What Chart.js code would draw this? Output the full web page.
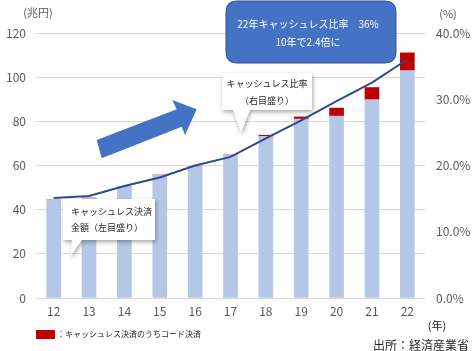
<!DOCTYPE html>
<html>
<head>
<meta charset="utf-8">
<script src="https://cdn.jsdelivr.net/npm/chart.js@4/dist/chart.umd.min.js"></script>
<style>
  html, body { margin: 0; padding: 0; background: #fff; }
</style>
</head>
<body>
<canvas id="chart" width="474" height="351"></canvas>
<script>
// 年（西暦下2桁）
var years = ['12', '13', '14', '15', '16', '17', '18', '19', '20', '21', '22'];
// キャッシュレス決済金額（コード決済を除く、兆円）
var cashlessBase = [44.4, 45.3, 50.3, 55.7, 59.5, 64.8, 73.2, 81.0, 82.4, 89.8, 103.0];
// うちコード決済（兆円）
var codePayment = [0, 0, 0, 0, 0, 0, 0.5, 1.0, 3.6, 5.5, 8.0];
// キャッシュレス比率（%）
var cashlessRatio = [15.1, 15.4, 16.9, 18.2, 20.0, 21.3, 24.1, 26.8, 29.7, 32.5, 36.0];

var FONT = '"Noto Sans CJK JP", "Noto Sans", sans-serif';
var GRAY = '#595959';

function roundRect(ctx, x, y, w, h, r){
    ctx.beginPath();
    ctx.moveTo(x + r, y);
    ctx.lineTo(x + w - r, y);
    ctx.quadraticCurveTo(x + w, y, x + w, y + r);
    ctx.lineTo(x + w, y + h - r);
    ctx.quadraticCurveTo(x + w, y + h, x + w - r, y + h);
    ctx.lineTo(x + r, y + h);
    ctx.quadraticCurveTo(x, y + h, x, y + h - r);
    ctx.lineTo(x, y + r);
    ctx.quadraticCurveTo(x, y, x + r, y);
    ctx.closePath();
}

// 白い吹き出し（pts: 吹き出し全体の輪郭）
function callout(ctx, pts, lines, tx, y0, lh, align){
    ctx.save();
    ctx.shadowColor = 'rgba(0,0,0,0.35)';
    ctx.shadowBlur = 4;
    ctx.shadowOffsetX = 1;
    ctx.shadowOffsetY = 2;
    ctx.beginPath();
    ctx.moveTo(pts[0][0], pts[0][1]);
    for (var i = 1; i < pts.length; i++) ctx.lineTo(pts[i][0], pts[i][1]);
    ctx.closePath();
    ctx.fillStyle = '#fff';
    ctx.fill();
    ctx.restore();
    ctx.fillStyle = '#262626';
    ctx.font = '9px ' + FONT;
    ctx.textAlign = align;
    ctx.textBaseline = 'middle';
    lines.forEach(function(t, k){ ctx.fillText(t, tx, y0 + k * lh); });
}

var annotations = {
    id: 'annotations',
    afterDatasetsDraw: function(chart){
        var ctx = chart.ctx;
        ctx.save();

        // 青い矢印
        ctx.beginPath();
        ctx.moveTo(96.7, 140);
        ctx.lineTo(176.7, 109.3);
        ctx.lineTo(172.3, 100);
        ctx.lineTo(196.7, 109.3);
        ctx.lineTo(185, 135);
        ctx.lineTo(181.7, 126.7);
        ctx.lineTo(101.7, 158.3);
        ctx.closePath();
        ctx.fillStyle = '#4472C4';
        ctx.fill();

        // 吹き出し：比率
        callout(ctx, [[222, 73], [312, 73], [312, 110], [250, 110], [241, 133], [233, 110], [222, 110]],
            ['キャッシュレス比率', '（右目盛り）'], 267, 84, 17, 'center');
        // 吹き出し：金額
        callout(ctx, [[63, 199], [155, 199], [155, 240], [82, 240], [70, 257], [72, 240], [63, 240]],
            ['キャッシュレス決済', '金額（左目盛り）'], 71, 212, 16, 'left');

        // 青い吹き出し
        roundRect(ctx, 226, 1, 170, 62, 11);
        ctx.fillStyle = '#4472C4';
        ctx.fill();
        ctx.strokeStyle = '#2F528F';
        ctx.lineWidth = 1;
        ctx.stroke();
        ctx.fillStyle = '#fff';
        ctx.font = '10px ' + FONT;
        ctx.textAlign = 'center';
        ctx.textBaseline = 'middle';
        ctx.fillText('22年キャッシュレス比率　36%', 308, 24);
        ctx.fillText('10年で2.4倍に', 308, 42);

        // 単位
        ctx.fillStyle = GRAY;
        ctx.font = '11px ' + FONT;
        ctx.fillText('(兆円)', 38, 13);
        ctx.fillText('(%)', 448, 14);
        ctx.fillStyle = '#262626';
        ctx.fillText('(年)', 437, 326);

        // 凡例
        ctx.fillStyle = '#C00000';
        ctx.fillRect(36, 330, 19, 9);
        ctx.fillStyle = '#262626';
        ctx.font = '8px ' + FONT;
        ctx.textAlign = 'left';
        ctx.fillText('：キャッシュレス決済のうちコード決済', 57, 334);

        // 出所
        ctx.font = '12px ' + FONT;
        ctx.textAlign = 'right';
        ctx.fillText('出所：経済産業省', 469, 345);

        ctx.restore();
    }
};

window.onload = function(){
    var ctx = document.getElementById('chart');
    new Chart(ctx, {
        data: {
            labels: years,
            datasets: [
                {
                    type: 'line',
                    label: 'キャッシュレス比率',
                    data: cashlessRatio,
                    yAxisID: 'y1',
                    borderColor: '#2E4A8E',
                    borderWidth: 2,
                    pointRadius: 0,
                    tension: 0,
                    order: 0
                },
                {
                    type: 'bar',
                    label: 'キャッシュレス決済金額',
                    data: cashlessBase,
                    yAxisID: 'y',
                    backgroundColor: '#B4C7E7',
                    barThickness: 14,
                    stack: 'amount',
                    order: 1
                },
                {
                    type: 'bar',
                    label: 'うちコード決済',
                    data: codePayment,
                    yAxisID: 'y',
                    backgroundColor: '#C00000',
                    barThickness: 14,
                    stack: 'amount',
                    order: 1
                }
            ]
        },
        options: {
            responsive: false,
            animation: false,
            layout: { padding: { top: 33, left: 0, right: 0, bottom: 0 } },
            plugins: {
                legend: { display: false },
                tooltip: { enabled: false }
            },
            scales: {
                x: {
                    stacked: true,
                    grid: { display: false, drawTicks: false },
                    border: { display: false },
                    ticks: { color: GRAY, font: { family: FONT, size: 12 }, padding: 6 },
                    afterFit: function(s){ s.height = 53; }
                },
                y: {
                    stacked: true,
                    position: 'left',
                    min: 0,
                    max: 120,
                    ticks: { stepSize: 20, color: GRAY, font: { family: FONT, size: 12 }, padding: 10 },
                    grid: { color: '#D9D9D9', drawTicks: false },
                    border: { display: false },
                    afterFit: function(s){ s.width = 36; }
                },
                y1: {
                    position: 'right',
                    min: 0,
                    max: 40,
                    ticks: {
                        stepSize: 10,
                        color: GRAY,
                        font: { family: FONT, size: 12 },
                        padding: 11,
                        callback: function(v){ return v.toFixed(1) + '%'; }
                    },
                    grid: { display: false, drawTicks: false },
                    border: { display: false },
                    afterFit: function(s){ s.width = 49; }
                }
            }
        },
        plugins: [annotations]
    });
};
</script>
</body>
</html>
